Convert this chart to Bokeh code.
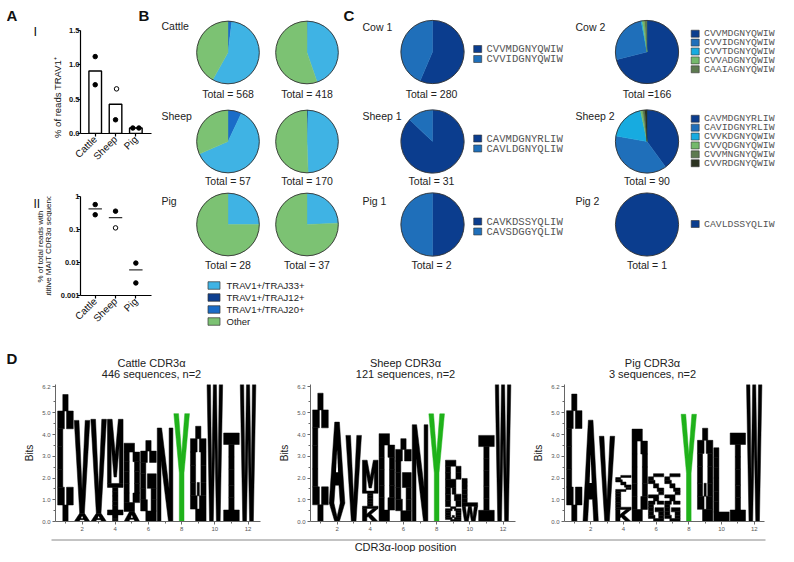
import math
from bokeh.plotting import figure
from bokeh.models import Range1d, FixedTicker, Spacer
from bokeh.layouts import row, column
from bokeh.embed import file_html
from bokeh.resources import INLINE
from bokeh.core.properties import value

SANS = "Liberation Sans"
MONO = "Liberation Mono"

# ---------------- data ----------------
species = ["Cattle", "Sheep", "Pig"]
trav1_mean = [0.91, 0.425, 0.08]
trav1_rep1 = [1.12, 0.65, 0.08]
trav1_rep2 = [0.71, 0.20, 0.08]
trav1_label = "% of reads TRAV1\u207a"
mait_mean = [0.42, 0.23, 0.006]
mait_rep1 = [0.57, 0.36, 0.0096]
mait_rep2 = [0.28, 0.112, 0.0024]
mait_label = ["% of total reads with", "putitive MAIT CDR3\u03b1 sequence"]

b_categories = ["TRAV1+/TRAJ33+", "TRAV1+/TRAJ12+", "TRAV1+/TRAJ20+", "Other"]
b_groups = ["Cattle", "Sheep", "Pig"]
# pies: Cattle 1, Cattle 2, Sheep 1, Sheep 2, Pig 1, Pig 2
b_traj33 = [319, 186, 35, 83, 7, 9]
b_traj12 = [0, 1, 0, 1, 0, 0]
b_traj20 = [11, 0, 4, 0, 0, 0]
b_other = [238, 231, 18, 86, 21, 28]

c_animals = ["Cow 1", "Sheep 1", "Pig 1", "Cow 2", "Sheep 2", "Pig 2"]
c_seqs = [
    ["CVVMDGNYQWIW", "CVVIDGNYQWIW"],
    ["CAVMDGNYRLIW", "CAVLDGNYQLIW"],
    ["CAVKDSSYQLIW", "CAVSDGGYQLIW"],
    ["CVVMDGNYQWIW", "CVVIDGNYQWIW", "CVVTDGNYQWIW", "CVVADGNYQWIW", "CAAIAGNYQWIW"],
    ["CAVMDGNYRLIW", "CAVIDGNYRLIW", "CVVKDGNYQWIW", "CVVQDGNYQWIW", "CVVMNGNYQWIW", "CVVRDGNYQWIW"],
    ["CAVLDSSYQLIW"],
]
c_counts = [
    [158, 122],
    [27, 4],
    [1, 1],
    [118, 43, 1, 2, 2],
    [36, 34, 17, 1, 1, 1],
    [1],
]
c_total_sep = [" ", " ", " ", "", " ", " "]

d_titles = ["Cattle CDR3\u03b1", "Sheep CDR3\u03b1", "Pig CDR3\u03b1"]
d_subtitles = ["446 sequences, n=2", "121 sequences, n=2", "3 sequences, n=2"]
cattle_pos = [1, 2, 2, 3, 3, 4, 4, 4, 5, 5, 6, 7, 8, 9, 10, 11, 12]
cattle_let = ["C", "A", "V", "A", "V", "T", "I", "M", "A", "D", "G", "N", "Y", "Q", "W", "I", "W"]
cattle_bits = [5.84, 0.38, 4.27, 0.38, 4.32, 0.35, 1.4, 2.95, 0.46, 3.14, 3.72, 4.3, 4.96, 4.38, 6.3, 4.07, 6.3]
sheep_pos = [1, 2, 2, 3, 4, 4, 4, 5, 6, 7, 8, 9, 9, 10, 10, 11, 12]
sheep_let = ["C", "V", "A", "V", "K", "I", "M", "D", "G", "N", "Y", "Q", "R", "W", "L", "I", "W"]
sheep_bits = [5.9, 0.85, 3.72, 3.96, 0.6, 0.8, 1.42, 4.04, 3.81, 4.45, 4.95, 0.68, 2.14, 0.7, 1.28, 3.96, 6.3]
pig_pos = [1, 2, 3, 4, 4, 4, 5, 6, 6, 7, 7, 8, 9, 10, 11, 12]
pig_let = ["C", "A", "V", "K", "L", "S", "D", "G", "S", "G", "S", "Y", "Q", "L", "I", "W"]
pig_bits = [5.86, 4.66, 3.92, 0.55, 0.83, 0.74, 4.25, 1.08, 1.12, 1.08, 1.12, 4.93, 4.29, 3.39, 4.07, 6.3]

# ---------------- style ----------------
B_COLORS = {"TRAV1+/TRAJ33+": "#3fb3e4", "TRAV1+/TRAJ12+": "#0d3e8f",
            "TRAV1+/TRAJ20+": "#1a6cc8", "Other": "#7cc273"}
C_COLORS = ["#0b3d8e", "#1f6fba", "#17abe0", "#74b96b", "#5d7a50", "#2b3321"]

# letter shapes: bitmaps (rows top->bottom) for round letters, polygons for diagonal ones
GLYPHS = {
    "C": [".###.", "##.##", "#....", "#....", "#....", "##.##", ".###."],
    "D": ["####.", "#..##", "#...#", "#...#", "#...#", "#..##", "####."],
    "G": [".###.", "##.##", "#....", "#.###", "#...#", "##..#", ".####"],
    "I": ["#####", ".###.", ".###.", ".###.", ".###.", ".###.", "#####"],
    "L": ["#....", "#....", "#....", "#....", "#....", "#....", "#####"],
    "Q": [".###.", "##.##", "#...#", "#...#", "#.#.#", "##.##", ".####"],
    "R": ["####.", "#...#", "#...#", "####.", "#.##.", "#..##", "#...#"],
    "S": [".####", "#....", "##...", ".###.", "...##", "....#", "####."],
    "T": ["#####", ".###.", ".###.", ".###.", ".###.", ".###.", ".###."],
}
POLYS = {
    "V": [[(0, 1), (0.3, 1), (0.5, 0.25), (0.7, 1), (1, 1), (0.65, 0), (0.35, 0)]],
    "A": [[(0.35, 1), (0.65, 1), (1, 0), (0.7, 0), (0.62, 0.22), (0.38, 0.22), (0.3, 0), (0, 0)]],
    "Y": [[(0, 1), (0.3, 1), (0.5, 0.62), (0.7, 1), (1, 1), (0.65, 0.45), (0.65, 0), (0.35, 0), (0.35, 0.45)]],
    "W": [[(0, 1), (0.22, 1), (0.3, 0.3), (0.4, 1), (0.6, 1), (0.7, 0.3), (0.78, 1), (1, 1),
           (0.84, 0), (0.6, 0), (0.5, 0.6), (0.4, 0), (0.16, 0)]],
    "M": [[(0, 0), (0, 1), (0.3, 1), (0.5, 0.45), (0.7, 1), (1, 1), (1, 0), (0.76, 0), (0.76, 0.6),
           (0.58, 0.1), (0.42, 0.1), (0.24, 0.6), (0.24, 0)]],
    "N": [[(0, 0), (0, 1), (0.28, 1), (0.76, 0.35), (0.76, 1), (1, 1), (1, 0), (0.72, 0),
           (0.24, 0.65), (0.24, 0)]],
    "K": [[(0, 0), (0, 1), (0.28, 1), (0.28, 0.58), (0.68, 1), (1, 1), (0.55, 0.55), (1, 0),
           (0.66, 0), (0.36, 0.38), (0.28, 0.3), (0.28, 0)]],
}
HOLES = {"A": [[(0.43, 0.38), (0.57, 0.38), (0.5, 0.66)]]}
COLW = [0.33, 0.1, 0.14, 0.1, 0.33]
ROWH = [0.13, 0.14, 0.14, 0.18, 0.14, 0.14, 0.13]
CE = [sum(COLW[:i]) for i in range(6)]
RE = [sum(ROWH[:i]) for i in range(8)]


def letter_cells(ch):
    cells = []
    for r, line in enumerate(GLYPHS[ch]):
        v1 = 1 - RE[r]
        v0 = 1 - RE[r + 1]
        c = 0
        while c < 5:
            if line[c] == "#":
                s = c
                while c < 5 and line[c] == "#":
                    c += 1
                cells.append((CE[s], CE[c], v0, v1))
            else:
                c += 1
    return cells


def canvas(x0, x1, y0, y1):
    p = figure(width=x1 - x0, height=y1 - y0, x_range=Range1d(x0, x1), y_range=Range1d(-y1, -y0),
               x_axis_type=None, y_axis_type=None, toolbar_location=None, output_backend="svg",
               min_border=0)
    p.outline_line_color = None
    return p


def txt(p, xs, ys, texts, size, font=SANS, align="left", style="normal", color="#222", angle=0.0):
    p.text(x=xs, y=[-y for y in ys], text=texts, text_font=value(font), text_font_size=value(size),
           text_align=align, text_baseline="middle", text_font_style=style, text_color=color,
           angle=angle)


def style_a(p):
    p.outline_line_color = None
    p.xgrid.visible = False
    p.ygrid.visible = False
    for ax in (p.xaxis, p.yaxis):
        ax.axis_line_width = 1.2
        ax.axis_line_color = "black"
        ax.major_tick_line_width = 1.2
        ax.major_tick_in = 0
        ax.major_tick_out = 3
        ax.minor_tick_out = 0
        ax.minor_tick_in = 0
        ax.major_label_standoff = 1
    p.yaxis.major_label_standoff = -2
    p.yaxis.major_label_text_font = SANS
    p.yaxis.major_label_text_font_style = "bold"
    p.yaxis.major_label_text_font_size = "7.5px"
    p.yaxis.major_label_text_color = "#111"
    p.xaxis.major_label_text_font = SANS
    p.xaxis.major_label_text_font_size = "10px"
    p.xaxis.major_label_text_color = "#111"


xs = [i + 1 for i in range(len(species))]
jit1 = [0.0, 0.05, -0.15]
jit2 = [0.0, 0.0, 0.15]

# ---------------- A-I ----------------
pA1 = figure(width=94, height=142, x_range=Range1d(0.276, 3.77), y_range=Range1d(0, 1.5),
             toolbar_location=None, output_backend="svg",
             min_border_left=18, min_border_right=5, min_border_top=4, min_border_bottom=35)
style_a(pA1)
pA1.vbar(x=xs, top=trav1_mean, bottom=0, width=0.62, fill_color="white", line_color="black", line_width=1.4)
pA1.scatter(x=[x + j for x, j in zip(xs, jit1)], y=trav1_rep1, size=4.5, line_color="black",
            fill_color=["black", "white", "black"], line_width=1)
pA1.scatter(x=[x + j for x, j in zip(xs, jit2)], y=trav1_rep2, size=4.5, line_color="black",
            fill_color="black", line_width=1)
pA1.yaxis.ticker = FixedTicker(ticks=[0, 0.5, 1.0, 1.5])
pA1.yaxis.major_label_overrides = {0: "0.0", 0.5: "0.5", 1: "1.0", 1.5: "1.5"}
pA1.xaxis.ticker = FixedTicker(ticks=xs)
pA1.xaxis.major_label_overrides = {x: s for x, s in zip(xs, species)}
pA1.xaxis.major_label_orientation = math.pi / 4

pLeft = canvas(8, 64, 8, 170)
txt(pLeft, [8], [17], ["A"], "15px", style="bold", color="#111")
txt(pLeft, [35], [33], ["I"], "13px", color="#111")
txt(pLeft, [59], [99], [trav1_label], "9.5px", align="center", color="#111", angle=math.pi / 2)
pHeadB = canvas(64, 158, 8, 28)
txt(pHeadB, [155], [16.5], ["B"], "15px", align="right", style="bold", color="#111")

# ---------------- A-II ----------------
pA2 = figure(width=104, height=170, y_axis_type="log", x_range=Range1d(0.276, 3.77),
             y_range=Range1d(0.001, 1), toolbar_location=None, output_backend="svg",
             min_border_left=28, min_border_right=5, min_border_top=28, min_border_bottom=43)
style_a(pA2)
pA2.segment(x0=[x - 0.33 for x in xs], x1=[x + 0.33 for x in xs], y0=mait_mean, y1=mait_mean,
            line_color="#333", line_width=1.3)
pA2.scatter(x=xs, y=mait_rep1, size=4.5, line_color="black", fill_color="black", line_width=1)
pA2.scatter(x=xs, y=mait_rep2, size=4.5, line_color="black",
            fill_color=["black", "white", "black"], line_width=1)
pA2.yaxis.ticker = FixedTicker(ticks=[0.001, 0.01, 0.1, 1])
pA2.yaxis.major_label_overrides = {0.001: "0.001", 0.01: "0.01", 0.1: "0.1", 1: "1"}
pA2.xaxis.ticker = FixedTicker(ticks=xs)
pA2.xaxis.major_label_overrides = {x: s for x, s in zip(xs, species)}
pA2.xaxis.major_label_orientation = math.pi / 4

pLeft2 = canvas(8, 54, 170, 340)
txt(pLeft2, [35], [183], ["II"], "12px", color="#111")
txt(pLeft2, [41.5, 49.5], [256, 256], mait_label, "8px", align="center", color="#111", angle=math.pi / 2)

# ---------------- B + C canvas ----------------
pBC = canvas(158, 786, 8, 340)
wx, wy, wr, wa0, wa1, wc = [], [], [], [], [], []
fx, fy, fr, fc = [], [], [], []
ox, oy, orr = [], [], []


def add_pie(cx, cy, r, counts, colors):
    tot = sum(counts)
    acc = 0
    for n, col in zip(counts, colors):
        if n == 0:
            continue
        if n == tot:
            fx.append(cx); fy.append(-cy); fr.append(r); fc.append(col)
        else:
            wx.append(cx); wy.append(-cy); wr.append(r); wc.append(col)
            wa0.append(math.pi / 2 - 2 * math.pi * acc / tot)
            wa1.append(math.pi / 2 - 2 * math.pi * (acc + n) / tot)
        acc += n
    ox.append(cx); oy.append(-cy); orr.append(r)
    return tot


# panel B
b_col_x = [229.5, 308.5]
b_row_y = [54, 143, 226]
b_total_y = [95, 182.5, 266]
order = ["TRAV1+/TRAJ12+", "TRAV1+/TRAJ20+", "TRAV1+/TRAJ33+", "Other"]
series = {"TRAV1+/TRAJ33+": b_traj33, "TRAV1+/TRAJ12+": b_traj12,
          "TRAV1+/TRAJ20+": b_traj20, "Other": b_other}
tot_x, tot_y, tot_t = [], [], []
for k in range(6):
    gi, ci = k // 2, k % 2
    counts = [series[c][k] for c in order]
    t = add_pie(b_col_x[ci], b_row_y[gi], 31.3, counts, [B_COLORS[c] for c in order])
    tot_x.append(b_col_x[ci]); tot_y.append(b_total_y[gi]); tot_t.append(f"Total = {t}")
txt(pBC, [163] * 3, [27, 117.5, 202], b_groups, "10.5px")

# legend B
leg_y = [287 + 12 * i for i in range(len(b_categories))]
pBC.rect(x=[215.5] * 4, y=[-y for y in leg_y], width=12, height=7.5,
         fill_color=[B_COLORS[c] for c in b_categories], line_color="#333", line_width=0.7)
txt(pBC, [228] * 4, leg_y, b_categories, "9.5px")

# panel C
c_col_x = [434, 648.5]
c_row_y = [53.5, 143, 226]
c_total_y = [95, 182.5, 266]
sq_x, sq_y, sq_c, lt_x, lt_y, lt_t, lt_s = [], [], [], [], [], [], []
for k in range(6):
    ci, ri = k // 3, k % 3
    cx, cy = c_col_x[ci], c_row_y[ri]
    n = len(c_counts[k])
    t = add_pie(cx, cy, 31.6, c_counts[k], C_COLORS[:n])
    tot_x.append(cx - (1 if ci == 0 else 0)); tot_y.append(c_total_y[ri])
    tot_t.append("Total =" + c_total_sep[k] + str(t))
    step = 10.0 if ci == 0 else 8.9
    center = cy + (2.0 if ci == 0 else -0.5)
    x_sq = 479.2 if ci == 0 else 696.7
    for i, s in enumerate(c_seqs[k]):
        yy = center - (n - 1) * step / 2 + i * step
        sq_x.append(x_sq); sq_y.append(-yy); sq_c.append(C_COLORS[i])
        lt_x.append(x_sq + 8.8); lt_y.append(yy); lt_t.append(s)
        lt_s.append("10.6px" if ci == 0 else "9.8px")

pBC.wedge(x=wx, y=wy, radius=wr, start_angle=wa0, end_angle=wa1, direction="clock",
          fill_color=wc, line_color=wc, line_width=0.4)
pBC.circle(x=fx, y=fy, radius=fr, fill_color=fc, line_color=None)
pBC.circle(x=ox, y=oy, radius=orr, fill_color=None, line_color="#333", line_width=0.9)
txt(pBC, tot_x, tot_y, tot_t, "10.5px", align="center")
txt(pBC, [364] * 3 + [577] * 3, [28, 117, 202] * 2, c_animals, "10.5px")
pBC.rect(x=sq_x, y=sq_y, width=8, height=7, fill_color=sq_c, line_color="#333", line_width=0.6)
for size in ("10.6px", "9.8px"):
    idx = [i for i, s in enumerate(lt_s) if s == size]
    txt(pBC, [lt_x[i] for i in idx], [lt_y[i] for i in idx], [lt_t[i] for i in idx], size,
        font=MONO, color="#555")
txt(pBC, [345], [16.5], ["C"], "15px", style="bold", color="#111")

# ---------------- D ----------------
pT = canvas(8, 786, 340, 382)
txt(pT, [8], [360], ["D"], "15px", style="bold", color="#111")
txt(pT, [153, 407, 654], [364] * 3, d_titles, "11px", align="center")
txt(pT, [153, 407, 654], [375.5] * 3, d_subtitles, "11px", align="center")

LW = 0.94


def make_logo(w, left, right, pos, lets, bits):
    frame_w = w - left - right
    x0 = 0.4
    p = figure(width=w, height=154, x_range=Range1d(x0, x0 + frame_w / 16.6), y_range=Range1d(0, 6.3),
               min_border_left=left, min_border_right=right, min_border_top=4, min_border_bottom=13,
               toolbar_location=None, output_backend="svg")
    p.outline_line_color = None
    p.xgrid.visible = False
    p.ygrid.visible = False
    base = {}
    L, R, B, T, C = [], [], [], [], []
    PX, PY, PC = [], [], []
    HX, HY = [], []
    for ps, lt, h in zip(pos, lets, bits):
        b0 = base.get(ps, 0.0)
        base[ps] = b0 + h
        col = "#1fb21a" if lt == "Y" else "#000000"
        x_left = ps - LW / 2
        if lt in POLYS:
            for poly in POLYS[lt]:
                PX.append([x_left + u * LW for u, v in poly])
                PY.append([b0 + v * h for u, v in poly])
                PC.append(col)
            for hole in HOLES.get(lt, []):
                HX.append([x_left + u * LW for u, v in hole])
                HY.append([b0 + v * h for u, v in hole])
        else:
            for (u0, u1, v0, v1) in letter_cells(lt):
                L.append(x_left + u0 * LW)
                R.append(x_left + u1 * LW)
                B.append(b0 + v0 * h)
                T.append(b0 + v1 * h)
                C.append(col)
    p.quad(left=L, right=R, bottom=B, top=T, fill_color=C, line_color=C, line_width=0.5)
    p.patches(xs=PX, ys=PY, fill_color=PC, line_color=PC, line_width=0.5)
    if HX:
        p.patches(xs=HX, ys=HY, fill_color="white", line_color=None)
    p.yaxis.ticker = FixedTicker(ticks=[0, 1, 2, 3, 4, 5, 6.2],
                                 minor_ticks=[0.5, 1.5, 2.5, 3.5, 4.5, 5.5])
    p.yaxis.major_label_overrides = {0: "0.0", 1: "1.0", 2: "2.0", 3: "3.0", 4: "4.0", 5: "5.0", 6.2: "6.2"}
    p.xaxis.ticker = FixedTicker(ticks=[2, 4, 6, 8, 10, 12], minor_ticks=list(range(1, 13)))
    for ax in (p.xaxis, p.yaxis):
        ax.axis_line_color = "#666"
        ax.major_tick_line_color = "#666"
        ax.minor_tick_line_color = "#666"
        ax.major_tick_in = 0
        ax.major_tick_out = 3
        ax.minor_tick_in = 0
        ax.minor_tick_out = 2
        ax.major_label_text_font = SANS
        ax.major_label_text_font_size = "6px"
        ax.major_label_text_color = "#555"
        ax.major_label_standoff = 2
    p.yaxis.axis_label = "Bits"
    p.yaxis.axis_label_text_font = SANS
    p.yaxis.axis_label_text_font_size = "10px"
    p.yaxis.axis_label_text_font_style = "normal"
    p.yaxis.axis_label_text_color = "#222"
    p.yaxis.axis_label_standoff = 4
    return p


l1 = make_logo(270, 49, 16, cattle_pos, cattle_let, cattle_bits)
l2 = make_logo(254, 34, 15, sheep_pos, sheep_let, sheep_bits)
l3 = make_logo(254, 31, 20, pig_pos, pig_let, pig_bits)

pBot = canvas(8, 786, 536, 554)
pBot.segment(x0=[53], x1=[767], y0=[-541.5], y1=[-541.5], line_color="#888", line_width=1)
txt(pBot, [407], [548], ["CDR3\u03b1-loop position"], "11px", align="center")

left_block = column(
    row(pLeft, column(pHeadB, pA1)),
    row(pLeft2, pA2),
)
content = column(row(left_block, pBC), pT, row(l1, l2, l3), pBot)
page = column(Spacer(height=6), row(Spacer(width=6), content))
open("out.html", "w").write(file_html(page, INLINE))
